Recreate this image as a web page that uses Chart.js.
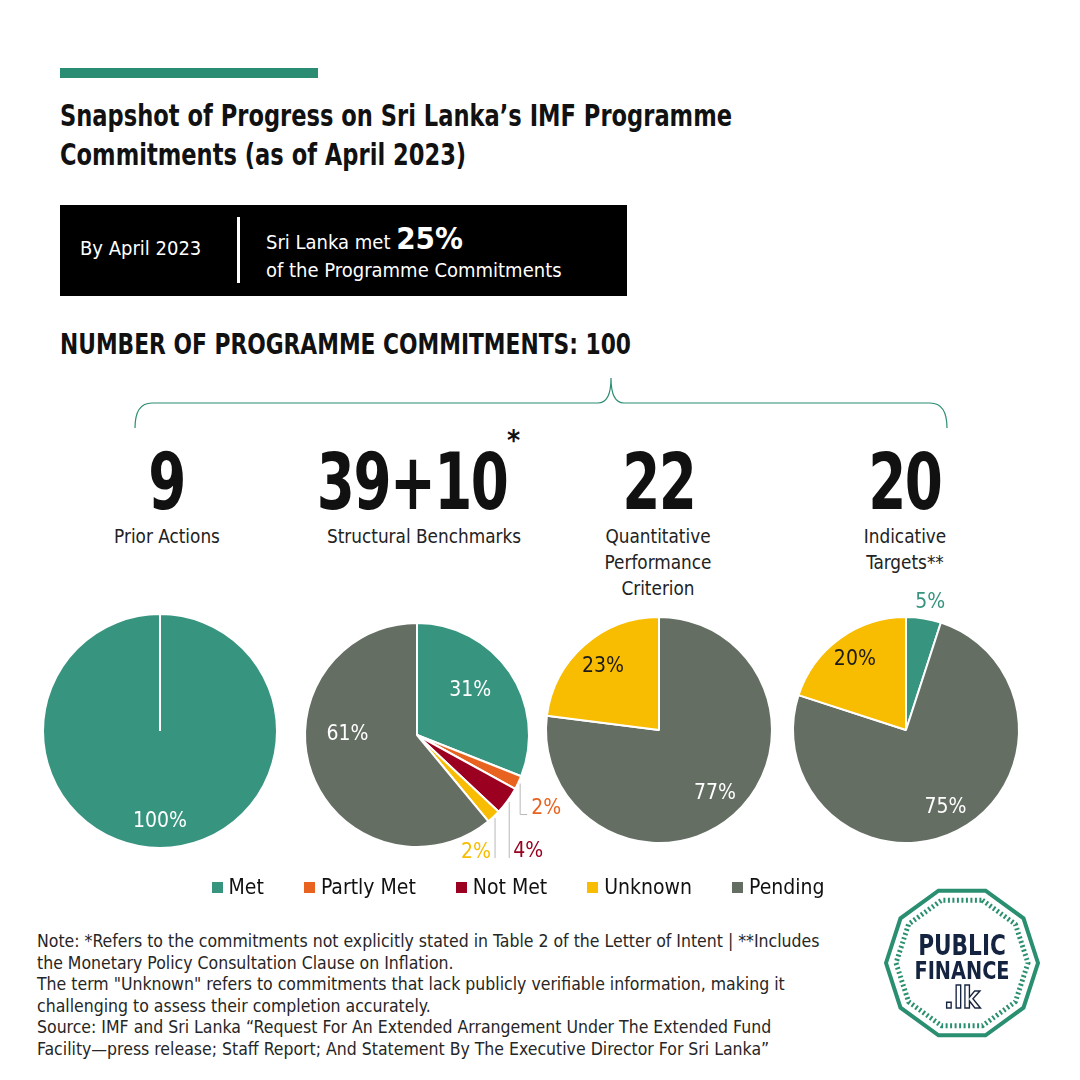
<!DOCTYPE html>
<html>
<head>
<meta charset="utf-8">
<script src="https://cdn.jsdelivr.net/npm/chart.js@4.4.0/dist/chart.umd.min.js"></script>
<style>
  html, body { margin:0; padding:0; background:#fff; }
  body { width:1080px; height:1080px; position:relative; overflow:hidden;
         font-family:"Liberation Sans Narrow","DejaVu Sans Condensed","Roboto",sans-serif; color:#111; }
  .abs { position:absolute; }
  .sq { display:inline-block; transform-origin:left center; white-space:nowrap; }
  .topbar { left:60px; top:68px; width:258px; height:10px; background:#2a8c72; }
  .title { left:60px; top:96px; font-size:31px; font-weight:bold; line-height:39px; color:#111; }
  .title .sq { transform:scaleX(0.81); }
  .box { left:60px; top:205px; width:567px; height:91px; background:#000; color:#fff; }
  .box .l { position:absolute; left:20px; top:31px; font-size:20px; }
  .box .sep { position:absolute; left:177px; top:12px; width:3px; height:66px; background:#fff; }
  .box .r1 { position:absolute; left:206px; top:15px; font-size:20px; }
  .box .r1 b { font-size:31px; }
  .box .r2 { position:absolute; left:206px; top:53px; font-size:20px; }
  .subhead { left:60px; top:327px; font-size:29px; font-weight:bold; }
  .subhead .sq { transform:scaleX(0.835); }
  .num { width:260px; text-align:center; font-size:78px; font-weight:bold; line-height:80px; top:442px; }
  .num .sq { transform-origin:center center; transform:scaleX(0.78); letter-spacing:-2px; }
  .cat { width:240px; text-align:center; font-size:18.8px; line-height:26px; top:524px; color:#222; }
  .star { left:507px; top:424px; font-size:28px; font-weight:bold; }
  canvas { position:absolute; }
  #legend { left:0; width:1036px; top:875px; display:flex; justify-content:center; gap:40px; font-size:21px; }
  #legend span.sw { display:inline-block; width:11px; height:11px; margin-right:6px; vertical-align:1px; }
  .notes { left:37px; top:931px; width:820px; font-size:17.5px; line-height:21.6px; color:#262626; }
</style>
</head>
<body>
<div class="abs topbar"></div>
<div class="abs title"><span class="sq">Snapshot of Progress on Sri Lanka’s IMF Programme</span><br><span class="sq">Commitments (as of April 2023)</span></div>
<div class="abs box">
  <div class="l">By April 2023</div>
  <div class="sep"></div>
  <div class="r1">Sri Lanka met <b>25%</b></div>
  <div class="r2">of the Programme Commitments</div>
</div>
<div class="abs subhead"><span class="sq">NUMBER OF PROGRAMME COMMITMENTS: 100</span></div>

<svg class="abs" style="left:0;top:0" width="1080" height="460">
  <path d="M135,428 Q135,403 152,403 L598,403 Q611,403 611,378 Q611,403 624,403 L930,403 Q947,403 947,428"
        fill="none" stroke="#2a8c72" stroke-width="1.2"/>
</svg>

<div id="heads"></div>
<div class="abs star">*</div>

<canvas id="pie1" width="270" height="290" style="left:25px;top:586px"></canvas>
<canvas id="pie2" width="300" height="300" style="left:267px;top:585px"></canvas>
<canvas id="pie3" width="260" height="280" style="left:529px;top:590px"></canvas>
<canvas id="pie4" width="260" height="300" style="left:776px;top:580px"></canvas>

<div id="legend" class="abs"></div>

<div class="abs notes">
Note: *Refers to the commitments not explicitly stated in Table 2 of the Letter of Intent | **Includes<br>
the Monetary Policy Consultation Clause on Inflation.<br>
The term "Unknown" refers to commitments that lack publicly verifiable information, making it<br>
challenging to assess their completion accurately.<br>
Source: IMF and Sri Lanka “Request For An Extended Arrangement Under The Extended Fund<br>
Facility—press release; Staff Report; And Statement By The Executive Director For Sri Lanka”
</div>

<svg class="abs" style="left:884px;top:883px" width="160" height="160" viewBox="0 0 160 160">
  <g transform="translate(78,80)">
    <polygon id="dec1" fill="#fff" stroke="#2a8f70" stroke-width="4"/>
    <polygon id="dec2" fill="none" stroke="#2a8f70" stroke-width="5" stroke-dasharray="2 2.5"/>
    <polygon id="dec3" fill="#fff" stroke="none"/>
    <g transform="scale(0.86,1)">
      <text x="0" y="-8" text-anchor="middle" font-family="DejaVu Sans Condensed, sans-serif" font-weight="bold" font-size="28" fill="#14233f">PUBLIC</text>
      <text x="0" y="16" text-anchor="middle" font-family="DejaVu Sans Condensed, sans-serif" font-weight="bold" font-size="25" fill="#14233f">FINANCE</text>
      <text x="0" y="45" text-anchor="middle" font-family="DejaVu Sans, sans-serif" font-weight="bold" font-size="30" fill="#fff" stroke="#14233f" stroke-width="1.6">.lk</text>
    </g>
  </g>
</svg>

<script>
// legend categories and colours
const categories = ['Met', 'Partly Met', 'Not Met', 'Unknown', 'Pending'];
const categoryColors = ['#37947f', '#e8631f', '#9b0020', '#f8bc00', '#646e63'];

// headline numbers and group names
const groupCounts = ['9', '39+10', '22', '20'];
const groupNames = ['Prior Actions', 'Structural Benchmarks', 'Quantitative<br>Performance<br>Criterion', 'Indicative<br>Targets**'];

// slice shares (%) for each pie, clockwise from 12 o'clock
const priorLabels = ['Met'];
const priorValues = [100];
const structLabels = ['Met', 'Partly Met', 'Not Met', 'Unknown', 'Pending'];
const structValues = [31, 2, 4, 2, 61];
const quantLabels = ['Pending', 'Unknown'];
const quantValues = [77, 23];
const indicLabels = ['Met', 'Pending', 'Unknown'];
const indicValues = [5, 75, 20];

function colorOf(cat){ return categoryColors[categories.indexOf(cat)]; }

/* headings above the pies */
const headX = [166, 412, 659, 905];
const catX = [167, 424, 658, 905];
let hh = '';
groupCounts.forEach((c, i) => {
  hh += `<div class="abs num" style="left:${headX[i]-130}px"><span class="sq">${c}</span></div>`;
  hh += `<div class="abs cat" style="left:${catX[i]-120}px">${groupNames[i]}</div>`;
});
document.getElementById('heads').innerHTML = hh;

/* legend */
document.getElementById('legend').innerHTML = categories.map((c, i) =>
  `<div><span class="sw" style="background:${categoryColors[i]}"></span>${c}</div>`).join('');

/* logo polygons */
function decagon(r){
  const pts = [];
  for(let k=0;k<10;k++){ const a = -Math.PI/2 + k*Math.PI/5 + Math.PI/10; pts.push((r*Math.cos(a)).toFixed(1)+','+(r*Math.sin(a)).toFixed(1)); }
  return pts.join(' ');
}
document.getElementById('dec1').setAttribute('points', decagon(76));
document.getElementById('dec2').setAttribute('points', decagon(66));
document.getElementById('dec3').setAttribute('points', decagon(60));

/* percentage labels on / beside the slices */
const sliceLabels = {
  id: 'sliceLabels',
  afterDatasetsDraw(chart, args, opts){
    const ctx = chart.ctx;
    const ds = chart.data.datasets[0];
    const meta = chart.getDatasetMeta(0);
    meta.data.forEach((arc, i) => {
      const v = ds.data[i];
      const p = arc.getProps(['x','y','startAngle','endAngle','outerRadius'], true);
      const mid = (p.startAngle + p.endAngle) / 2;
      const col = ds.backgroundColor[i];
      const text = v + '%';
      ctx.save();
      ctx.font = '21px "Liberation Sans Narrow", "DejaVu Sans Condensed", sans-serif';
      ctx.textBaseline = 'middle';
      const call = (opts.callouts || {})[i];
      if(call){
        const ex = p.x + Math.cos(mid) * (p.outerRadius + 2);
        const ey = p.y + Math.sin(mid) * (p.outerRadius + 2);
        const endY = ey + call.drop;
        ctx.strokeStyle = '#b8b8b8'; ctx.lineWidth = 1;
        ctx.beginPath(); ctx.moveTo(ex, ey); ctx.lineTo(ex, endY);
        if(call.hook) ctx.lineTo(ex + call.hook, endY);
        ctx.stroke();
        ctx.fillStyle = col;
        if(call.side === 'left'){ ctx.textAlign = 'right'; ctx.fillText(text, ex - 4, endY - 6); }
        else { ctx.textAlign = 'left'; ctx.fillText(text, ex + (call.hook || 0) + 4, endY - 6); }
      } else if(v < 10){
        ctx.fillStyle = col; ctx.textAlign = 'center';
        const r = p.outerRadius + 16;
        ctx.fillText(text, p.x + Math.cos(mid) * r + 4, p.y + Math.sin(mid) * r);
      } else {
        ctx.fillStyle = col === colorOf('Unknown') ? '#1a1a1a' : '#fff';
        ctx.textAlign = 'center';
        const r = p.outerRadius * (opts.inset || 0.72);
        const a = mid + ((opts.turn || {})[i] || 0);
        ctx.fillText(text, p.x + Math.cos(a) * r, p.y + Math.sin(a) * r);
      }
      ctx.restore();
    });
  }
};

function makePie(id, labels, values, radius, labelOpts){
  new Chart(document.getElementById(id), {
    type: 'pie',
    data: { labels: labels, datasets: [{ data: values, backgroundColor: labels.map(colorOf),
            borderColor: '#fff', borderWidth: 2 }] },
    options: {
      responsive: false, animation: false, radius: radius,
      layout: { padding: 0 },
      plugins: { legend: { display: false }, tooltip: { enabled: false }, sliceLabels: labelOpts }
    },
    plugins: [sliceLabels]
  });
}

makePie('pie1', priorLabels, priorValues, 117, { inset: 0.77 });
makePie('pie2', structLabels, structValues, 112, { inset: 0.62, turn: { 0: -0.1, 4: 0.35 },
  callouts: { 1: { drop: 31, hook: 7 }, 2: { drop: 56 }, 3: { drop: 40, side: 'left' } } });
makePie('pie3', quantLabels, quantValues, 113, { inset: 0.75 });
makePie('pie4', indicLabels, indicValues, 113, { inset: 0.77 });
</script>
</body>
</html>
